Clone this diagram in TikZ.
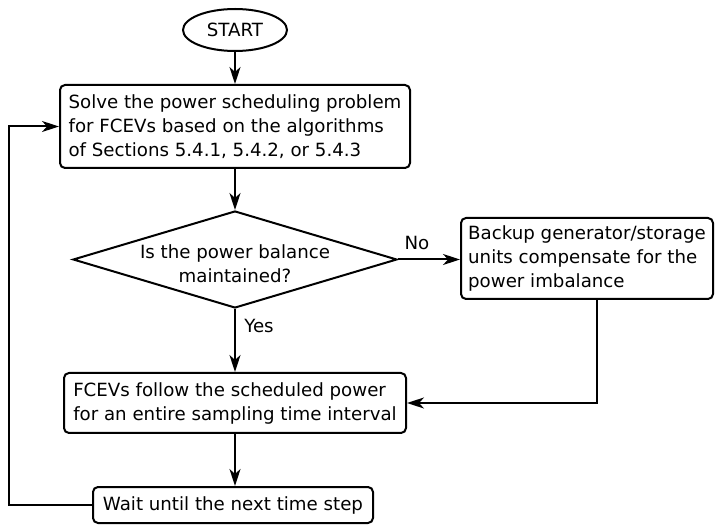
\documentclass[tikz,border=0pt]{standalone}
\usepackage{fontspec}
\setmainfont{DejaVu Sans}
\usetikzlibrary{shapes.geometric,arrows.meta}
\begin{document}
\begin{tikzpicture}[x=1pt,y=-1pt,
  every node/.style={font=\fontsize{18.2}{24}\selectfont},
  line/.style={line width=2pt},
  arrow/.style={line, -{Stealth[length=17pt,width=11pt,inset=5pt]}},
  stepbox/.style={draw, line width=2pt, rounded corners=5pt, align=left,
    inner sep=0pt},
  terminal/.style={draw, line width=2pt, ellipse, inner sep=0pt,
    minimum width=104pt, minimum height=42pt},
  decision/.style={draw, line width=2pt, diamond, aspect=3.3, inner sep=0pt,
    minimum width=324pt, minimum height=97pt}
]
\useasboundingbox (0,0) rectangle (723,526);

% nodes
\node[terminal] (start) at (235,30) {START};
\node[stepbox, minimum width=350pt, minimum height=83pt] (solve) at (235,126.5)
  {Solve the power scheduling problem\\for FCEVs based on the algorithms\\of Sections 5.4.1, 5.4.2, or 5.4.3};
\node[decision] (dec) at (235,259.5) {};
\node[align=center, inner sep=0pt] (dectext) at (235,264)
  {Is the power balance\\maintained?};
\node[stepbox, minimum width=252pt, minimum height=81pt] (backup) at (587,258.5)
  {Backup generator/storage\\units compensate for the\\power imbalance};
\node[stepbox, minimum width=342pt, minimum height=60pt] (act) at (235,403)
  {FCEVs follow the scheduled power\\for an entire sampling time interval};
\node[stepbox, align=center, minimum width=280pt, minimum height=36pt] (wait) at (233,505)
  {Wait until the next time step};
\node (no) at (417,243) {No};
\node (yes) at (259,326) {Yes};
\coordinate (loopcorner) at (9,505);

% connectors
\draw[arrow] (start.south) -- (start.south |- solve.north);
\draw[arrow] (solve.south -| dec.north) -- (dec.north);
\draw[arrow] (dec.east) -- (dec.east -| backup.west);
\draw[arrow] (dec.south) -- (dec.south |- act.north);
\draw[arrow] ([xshift=10pt]backup.south) |- (act.east);
\draw[arrow] (dec.south |- act.south) -- (dec.south |- wait.north);
\draw[arrow] (wait.west) -- (wait.west -| loopcorner) |- (solve.west);
\end{tikzpicture}
\end{document}
